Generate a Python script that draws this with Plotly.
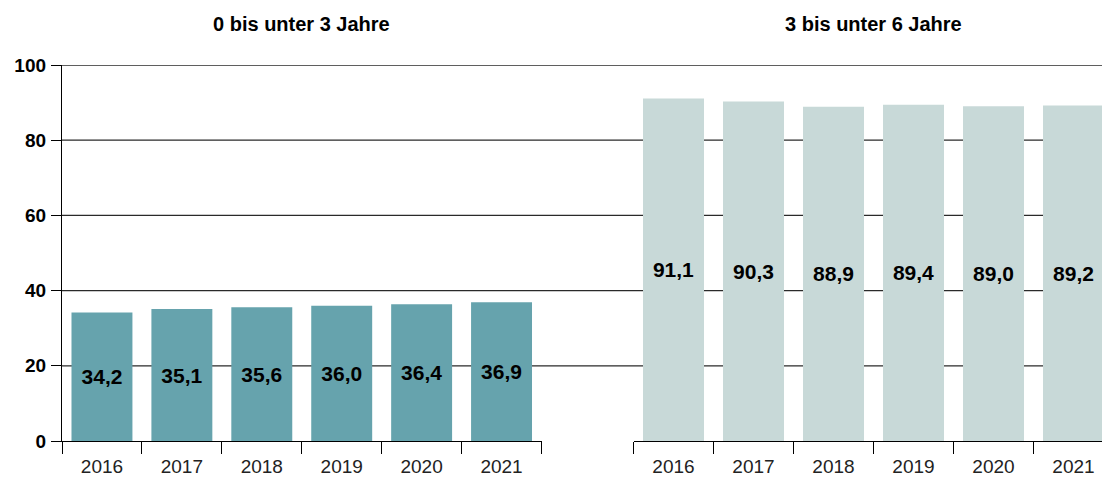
import plotly.graph_objects as go

years = ["2016", "2017", "2018", "2019", "2020", "2021"]
under3 = [34.2, 35.1, 35.6, 36.0, 36.4, 36.9]
from3to6 = [91.1, 90.3, 88.9, 89.4, 89.0, 89.2]
panel_titles = ["0 bis unter 3 Jahre", "3 bis unter 6 Jahre"]
y_ticks = [0, 20, 40, 60, 80, 100]

FONT = "Liberation Sans"
OFF = 8  # default body margin of the html page
W, H = 1110 - OFF, 477 - OFF
ML, MT, MB = 62 - OFF, 65 - OFF, 34
plot_w = W - ML
plot_h = H - MT - MB

def fmt(v):
    return f"{v:.1f}".replace(".", ",")

fig = go.Figure()
fig.add_trace(go.Bar(
    x=years, y=under3, xaxis="x", yaxis="y",
    marker=dict(color="#66A3AD", line=dict(width=0)),
    text=[fmt(v) for v in under3], textposition="inside",
    insidetextanchor="middle", textangle=0,
    textfont=dict(family=FONT, size=21, color="#000000", weight="bold"),
    hoverinfo="skip", showlegend=False,
))
fig.add_trace(go.Bar(
    x=years, y=from3to6, xaxis="x2", yaxis="y2",
    marker=dict(color="#C8D9D8", line=dict(width=0)),
    text=[fmt(v) for v in from3to6], textposition="inside",
    insidetextanchor="middle", textangle=0,
    textfont=dict(family=FONT, size=21, color="#000000", weight="bold"),
    hoverinfo="skip", showlegend=False,
))

left_end = (541.5 - 62) / plot_w
right_start = (633.5 - 62) / plot_w
right_clip = 5.5 - (1113.5 - 1110) / 80.0

xcommon = dict(
    type="category", showgrid=False, zeroline=False,
    showline=True, linecolor="#000000", linewidth=1.3,
    ticks="outside", tickson="boundaries", ticklen=12,
    tickcolor="#000000", tickwidth=1.3, ticklabelstandoff=8,
    tickfont=dict(family=FONT, size=19, color="#222222"),
    fixedrange=True,
)
fig.update_layout(
    width=W, height=H,
    margin=dict(l=ML, r=0, t=MT, b=MB, pad=0),
    paper_bgcolor="white", plot_bgcolor="rgba(0,0,0,0)",
    bargap=0.2375,
    xaxis=dict(domain=[0, left_end], range=[-0.5, 5.5], anchor="y", **xcommon),
    xaxis2=dict(domain=[right_start, 1], range=[-0.5, right_clip], anchor="y2", **xcommon),
    yaxis=dict(
        range=[0, 100], tickvals=y_ticks, showgrid=False, zeroline=False,
        showline=True, linecolor="#000000", linewidth=1.3,
        ticks="outside", ticklen=10, tickcolor="#000000", tickwidth=1.3,
        ticklabelstandoff=1,
        tickfont=dict(family=FONT, size=19, color="#000000", weight="bold"),
        anchor="x", fixedrange=True,
    ),
    yaxis2=dict(
        range=[0, 100], showgrid=False, zeroline=False, showline=False,
        showticklabels=False, ticks="", anchor="x2", matches="y",
        fixedrange=True,
    ),
)

for v in y_ticks[1:]:
    fig.add_shape(
        type="line", xref="paper", yref="y", x0=0, x1=1, y0=v, y1=v,
        line=dict(color="#2A2A2A", width=1.3), layer="below",
    )

title_y_page = 24
for xr, title in zip(["x", "x2"], panel_titles):
    fig.add_annotation(
        x=2.5, xref=xr, y=1 + (MT - (title_y_page - OFF)) / plot_h, yref="paper",
        text=title, showarrow=False, xanchor="center", yanchor="middle",
        font=dict(family=FONT, size=20, color="#000000", weight="bold"),
    )

fig.write_html("out.html")
